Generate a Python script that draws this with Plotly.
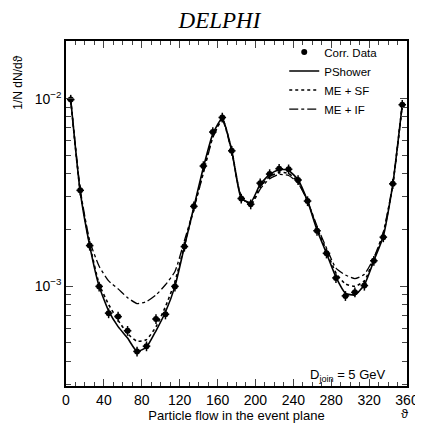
import plotly.graph_objects as go

theta = [5, 15, 25, 35, 45, 55, 65, 75, 85, 95, 105, 115, 125, 135, 145, 155, 165, 175,
         185, 195, 205, 215, 225, 235, 245, 255, 265, 275, 285, 295, 305, 315, 325, 335, 345, 355]

corr_data = [9.9e-3, 3.25e-3, 1.65e-3, 1.0e-3, 7.2e-4, 6.9e-4, 5.8e-4, 4.5e-4, 4.8e-4, 6.7e-4,
             7.1e-4, 1.0e-3, 1.63e-3, 2.67e-3, 4.38e-3, 6.65e-3, 7.95e-3, 5.28e-3,
             2.94e-3, 2.74e-3, 3.55e-3, 3.97e-3, 4.24e-3, 4.21e-3, 3.69e-3, 2.85e-3, 1.98e-3,
             1.50e-3, 1.11e-3, 8.9e-4, 9.3e-4, 1.01e-3, 1.37e-3, 1.83e-3, 3.52e-3, 9.3e-3]

pshower = [9.9e-3, 3.2e-3, 1.65e-3, 1.0e-3, 7.4e-4, 6.1e-4, 5.3e-4, 4.5e-4, 4.75e-4, 5.8e-4,
           7.3e-4, 1.0e-3, 1.63e-3, 2.65e-3, 4.3e-3, 6.5e-3, 7.9e-3, 5.3e-3,
           2.95e-3, 2.8e-3, 3.5e-3, 3.95e-3, 4.2e-3, 4.15e-3, 3.7e-3, 2.85e-3, 2.0e-3,
           1.5e-3, 1.12e-3, 9.2e-4, 9.0e-4, 1.02e-3, 1.37e-3, 1.85e-3, 3.5e-3, 9.3e-3]

me_sf = [9.9e-3, 3.2e-3, 1.68e-3, 1.03e-3, 8.0e-4, 6.6e-4, 5.6e-4, 5.1e-4, 5.2e-4, 6.1e-4,
         7.8e-4, 1.06e-3, 1.65e-3, 2.6e-3, 4.1e-3, 6.3e-3, 7.8e-3, 5.3e-3,
         3.0e-3, 2.75e-3, 3.4e-3, 3.85e-3, 4.05e-3, 4.0e-3, 3.6e-3, 2.85e-3, 2.05e-3,
         1.55e-3, 1.18e-3, 1.03e-3, 1.0e-3, 1.07e-3, 1.4e-3, 1.9e-3, 3.5e-3, 9.3e-3]

me_if = [9.8e-3, 3.3e-3, 1.75e-3, 1.28e-3, 1.07e-3, 9.7e-4, 8.7e-4, 8.1e-4, 8.3e-4, 9.0e-4,
         1.02e-3, 1.2e-3, 1.75e-3, 2.6e-3, 4.0e-3, 6.2e-3, 7.7e-3, 5.2e-3,
         3.0e-3, 2.7e-3, 3.3e-3, 3.75e-3, 3.95e-3, 3.9e-3, 3.55e-3, 2.85e-3, 2.1e-3,
         1.6e-3, 1.25e-3, 1.15e-3, 1.1e-3, 1.16e-3, 1.42e-3, 1.95e-3, 3.5e-3, 9.2e-3]

x_ticks = [0, 40, 80, 120, 160, 200, 240, 280, 320, 360]
y_ticks = [1e-3, 1e-2]
y_ticktext = ["10<sup>−3</sup>", "10<sup>−2</sup>"]
y_minor = [3e-4, 4e-4, 5e-4, 6e-4, 7e-4, 8e-4, 9e-4,
           2e-3, 3e-3, 4e-3, 5e-3, 6e-3, 7e-3, 8e-3, 9e-3]

FONT = "Liberation Sans, Arial, sans-serif"

fig = go.Figure()
fig.add_trace(go.Scatter(x=theta, y=corr_data, mode="markers", name="Corr. Data",
                         marker=dict(symbol="circle", size=6, color="black"),
                         error_x=dict(type="constant", value=4, thickness=1.5, width=0, color="black"),
                         error_y=dict(type="percent", value=6, thickness=1.5, width=0, color="black")))
fig.add_trace(go.Scatter(x=theta, y=pshower, mode="lines", name="PShower",
                         line=dict(color="black", width=1.6, shape="spline", smoothing=0.5)))
fig.add_trace(go.Scatter(x=theta, y=me_sf, mode="lines", name="ME + SF",
                         line=dict(color="black", width=1.6, dash="dot", shape="spline", smoothing=0.5)))
fig.add_trace(go.Scatter(x=theta, y=me_if, mode="lines", name="ME + IF",
                         line=dict(color="black", width=1.3, dash="dashdot", shape="spline", smoothing=0.5)))

fig.update_layout(
    width=423, height=423,
    margin=dict(l=58, r=17, t=33, b=35),
    paper_bgcolor="white", plot_bgcolor="white",
    font=dict(family=FONT, color="black", size=13),
    showlegend=True,
    legend=dict(x=0.64, y=1.01, xanchor="left", yanchor="top",
                bgcolor="rgba(0,0,0,0)", font=dict(size=11.5, family=FONT),
                itemwidth=30, tracegroupgap=0),
    title=dict(text="<i>DELPHI</i>", x=0.5, xanchor="center", y=0.99, yanchor="top",
               font=dict(family="Liberation Serif, Times New Roman, serif", size=23, color="black")),
)

fig.update_xaxes(range=[0, 360], tickvals=x_ticks, ticks="inside", ticklen=7, tickwidth=1.2,
                 showline=True, linecolor="black", linewidth=1.5, mirror="ticks",
                 showgrid=False, zeroline=False, tickfont=dict(size=14, family=FONT),
                 minor=dict(dtick=10, ticks="inside", ticklen=4, tickwidth=1, showgrid=False),
                 title=dict(text="Particle flow in the event plane", font=dict(size=13, family=FONT),
                            standoff=2))

fig.update_yaxes(type="log", range=[-3.531, -1.692], tickvals=y_ticks, ticktext=y_ticktext,
                 ticks="inside", ticklen=7, tickwidth=1.2,
                 showline=True, linecolor="black", linewidth=1.5, mirror="ticks",
                 showgrid=False, zeroline=False, tickfont=dict(size=14, family=FONT),
                 minor=dict(tickmode="array", tickvals=y_minor, ticks="inside", ticklen=5,
                            tickwidth=1, showgrid=False))

fig.add_annotation(text="1/N dN/dϑ", xref="paper", yref="paper", x=-0.14, y=0.88,
                   showarrow=False, textangle=-90, xanchor="center", yanchor="middle",
                   font=dict(size=12, family=FONT))
fig.add_annotation(text="ϑ", xref="paper", yref="paper", x=0.995, y=-0.08,
                   showarrow=False, xanchor="center", yanchor="middle",
                   font=dict(size=13, family=FONT))
fig.add_annotation(text="D<sub>join</sub> = 5 GeV", xref="paper", yref="paper", x=0.945, y=0.03,
                   showarrow=False, xanchor="right", yanchor="middle",
                   font=dict(size=13, family=FONT))

fig.write_html("out.html")
